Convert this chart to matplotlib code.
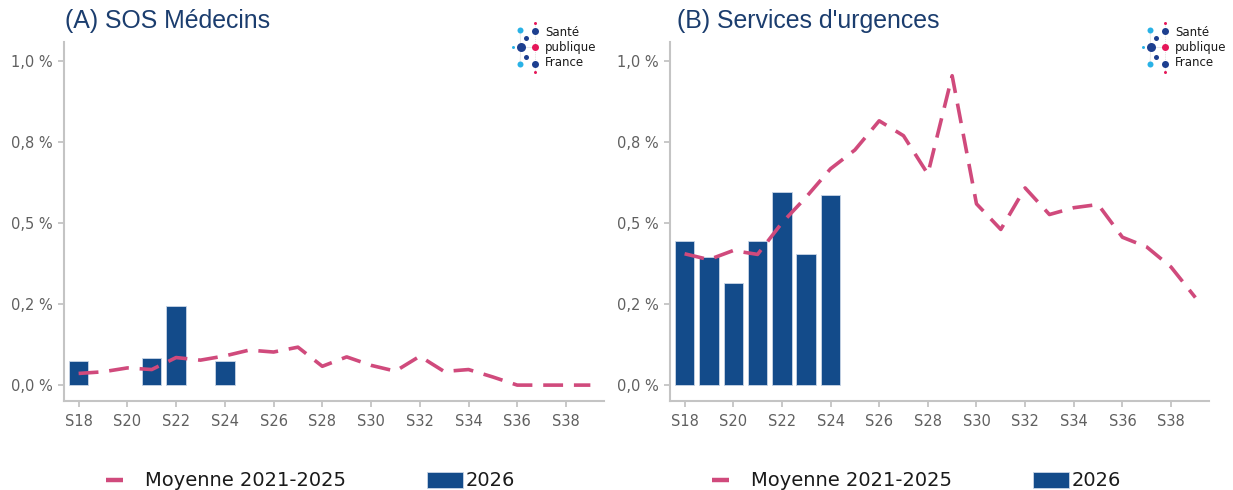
import matplotlib
matplotlib.use("Agg")
import matplotlib.pyplot as plt
from matplotlib.lines import Line2D
from matplotlib.patches import Rectangle

# Data (semaines S18 -> S39, valeurs en %)
weeks_line = list(range(18, 40))
sos_moyenne = [0.036, 0.041, 0.053, 0.048, 0.085, 0.077, 0.090, 0.108, 0.102, 0.117,
               0.058, 0.087, 0.061, 0.043, 0.089, 0.042, 0.048, 0.025, 0.0, 0.0, 0.0, 0.0]
urg_moyenne = [0.405, 0.387, 0.415, 0.403, 0.500, 0.580, 0.667, 0.725, 0.815, 0.769,
               0.651, 0.954, 0.559, 0.480, 0.608, 0.526, 0.547, 0.557, 0.456, 0.426, 0.364, 0.27]

weeks_bar = [18, 19, 20, 21, 22, 23, 24]
sos_2026 = [0.075, 0.0, 0.0, 0.084, 0.245, 0.0, 0.075]
urg_2026 = [0.445, 0.395, 0.315, 0.445, 0.595, 0.405, 0.585]

xticks = list(range(18, 39, 2))
xtick_labels = ["S%d" % w for w in xticks]
yticks = [0, 0.25, 0.5, 0.75, 1.0]
ytick_labels = ["0,0 %", "0,2 %", "0,5 %", "0,8 %", "1,0 %"]

titles = ["(A) SOS Médecins", "(B) Services d'urgences"]
legend_line = "Moyenne 2021-2025"
legend_bar = "2026"

BLUE = "#134b8a"
PINK = "#d04a7c"
TITLE_COL = "#1b3d6e"
GRAY_TXT = "#606060"
SPINE = "#c4c4c4"

W, H = 1233, 490
fig = plt.figure(figsize=(W / 100, H / 100), dpi=100)

panels = [
    (64, 604, sos_2026, sos_moyenne),
    (670, 1209, urg_2026, urg_moyenne),
]
top_px, bot_px = 42, 401
for (x0, x1, bars, line) in panels:
    ax = fig.add_axes([x0 / W, 1 - bot_px / H, (x1 - x0) / W, (bot_px - top_px) / H])
    # no bar drawn for weeks without cases
    bx = [w for w, v in zip(weeks_bar, bars) if v > 0]
    bv = [v for v in bars if v > 0]
    ax.bar(bx, bv, width=0.8, color=BLUE, edgecolor="#c9d6e6", linewidth=0.6, zorder=2)
    ax.plot(weeks_line, line, color=PINK, linewidth=2.6, dashes=(5.5, 3.0),
            solid_capstyle="butt", dash_capstyle="butt", zorder=3)
    ax.set_xlim(17.4, 39.56)
    ax.set_ylim(-0.049, 1.058)
    ax.set_xticks(xticks)
    ax.set_xticklabels(xtick_labels)
    ax.set_yticks(yticks)
    ax.set_yticklabels(ytick_labels)
    for s in ["top", "right"]:
        ax.spines[s].set_visible(False)
    for s in ["left", "bottom"]:
        ax.spines[s].set_color(SPINE)
        ax.spines[s].set_linewidth(1.5)
    ax.tick_params(axis="both", colors=SPINE, labelcolor=GRAY_TXT, labelsize=10.5,
                   length=4, width=1.3)
    ax.tick_params(axis="x", pad=5)
    ax.tick_params(axis="y", pad=4)

# overlay in pixel coordinates for titles, legends and logos
ov = fig.add_axes([0, 0, 1, 1], zorder=10)
ov.set_xlim(0, W)
ov.set_ylim(H, 0)
ov.axis("off")
ov.patch.set_alpha(0)

for dx, title in zip([0, 606], titles):
    ov.text(65 + dx * 1.0093, 21, title, fontsize=17.9, color=TITLE_COL,
            family="Liberation Sans", va="center", ha="left")
    # legend
    ov.add_line(Line2D([106 + dx, 123 + dx], [480, 480], color=PINK, linewidth=3.2,
                       solid_capstyle="butt"))
    ov.text(145 + dx, 480, legend_line, fontsize=14, color="#1a1a1a", va="center", ha="left")
    ov.add_patch(Rectangle((427 + dx, 472), 36, 16, facecolor=BLUE, edgecolor="#c9d6e6",
                           linewidth=0.6))
    ov.text(466 + dx, 480, legend_bar, fontsize=14, color="#1a1a1a", va="center", ha="left")

# logos Santé publique France
logo_dots = [
    (520, 30, 3.0, "#29b2e6"), (535, 31, 3.5, "#1d3f8f"), (535, 23, 1.5, "#e6185a"),
    (526, 38, 2.5, "#1d3f8f"), (520.7, 47.3, 4.5, "#1d3f8f"), (512.7, 47.3, 1.5, "#29b2e6"),
    (535, 47.3, 3.5, "#e6185a"), (526, 56.7, 2.5, "#1d3f8f"), (520, 64.3, 3.0, "#29b2e6"),
    (535, 64.3, 3.5, "#1d3f8f"), (535, 72.3, 1.5, "#e6185a"),
]
for lx in [0, 630]:
    ov.plot([535 + lx, 535 + lx], [23, 72], color="#d0d0d0", linewidth=0.6, linestyle=":")
    for (x2, y2) in [(520, 30), (520, 64.3), (535, 47.3)]:
        ov.plot([520.7 + lx, x2 + lx], [47.3, y2], color="#e0e0e0", linewidth=0.5)
    for (x, y, r, c) in logo_dots:
        ov.scatter([x + lx], [y], s=(1.44 * r) ** 2, color=c, linewidths=0, zorder=11)
    for y, word in zip([32, 47, 62], ["Santé", "publique", "France"]):
        ov.text(545 + lx, y, word, fontsize=8.5, color="#1a1a1a", va="center", ha="left")

fig.savefig("out.png", dpi=100)
